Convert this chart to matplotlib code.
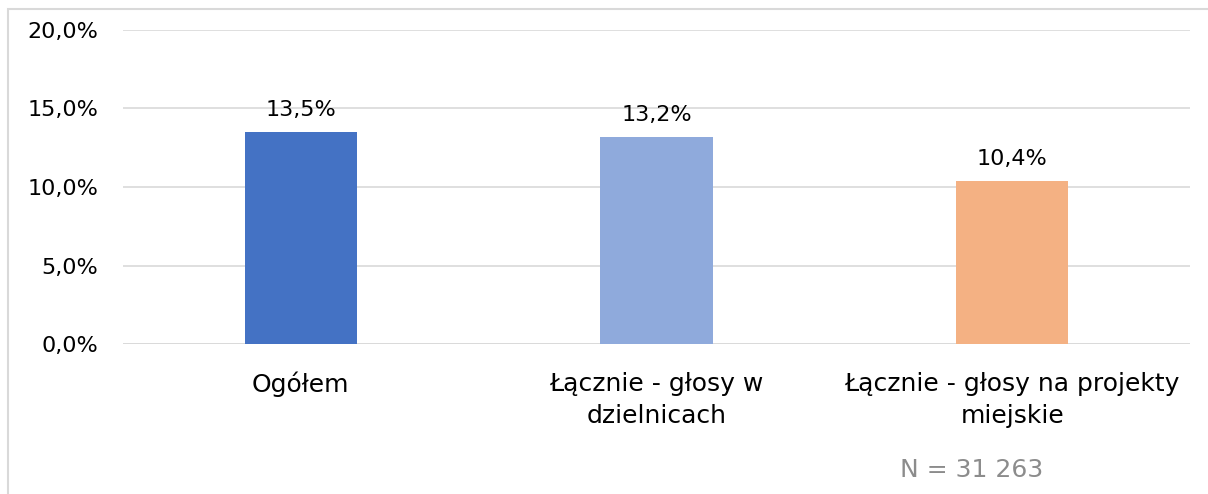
import matplotlib
matplotlib.use("Agg")
import matplotlib.pyplot as plt
from matplotlib.patches import Rectangle

plt.rcParams['font.family'] = ['DejaVu Sans']

categories = ["Ogółem", "Łącznie - głosy w\ndzielnicach", "Łącznie - głosy na projekty\nmiejskie"]
values = [13.5, 13.2, 10.4]
labels = ["13,5%", "13,2%", "10,4%"]
colors = ["#4472C4", "#8FAADC", "#F4B183"]
yticks = [0, 5, 10, 15, 20]
ytick_labels = ["0,0%", "5,0%", "10,0%", "15,0%", "20,0%"]

W, H = 1208, 494
FS = 16
FS_TXT = 18
fig = plt.figure(figsize=(W/100, H/100), dpi=100)
ax = fig.add_axes([123/W, 1-344/H, (1190-123)/W, (344-30)/H])

x = list(range(len(categories)))
ax.bar(x, values, width=0.315, color=colors, zorder=3)
for xi, v, lab in zip(x, values, labels):
    ax.annotate(lab, (xi, v), xytext=(0, 12), textcoords='offset pixels',
                ha='center', va='bottom', fontsize=FS, color='#000000')

ax.set_xlim(-0.5, len(categories) - 0.5)
ax.set_ylim(0, 20)
ax.set_yticks(yticks)
ax.set_yticklabels(ytick_labels, fontsize=FS)
ax.set_xticks(x)
ax.set_xticklabels(categories, fontsize=FS_TXT, linespacing=1.42)
ax.tick_params(length=0)
ax.tick_params(axis='x', pad=20)
ax.tick_params(axis='y', pad=18)
ax.grid(axis='y', color='#D9D9D9', linewidth=1.2, zorder=0)
for s in ax.spines.values():
    s.set_visible(False)
ax.axhline(0, color='#D9D9D9', linewidth=1.2, zorder=2)

fig.text(972/W, 1-470/H, "N = 31 263", fontsize=FS_TXT, color='#8C8C8C', ha='center', va='center')

# outer border
fig.patches.append(Rectangle((8/W, -0.1), 1.2, 1 - 9/H + 0.1, transform=fig.transFigure,
                             fill=False, edgecolor='#D9D9D9', linewidth=1.5))

fig.savefig("out.png", dpi=100)
